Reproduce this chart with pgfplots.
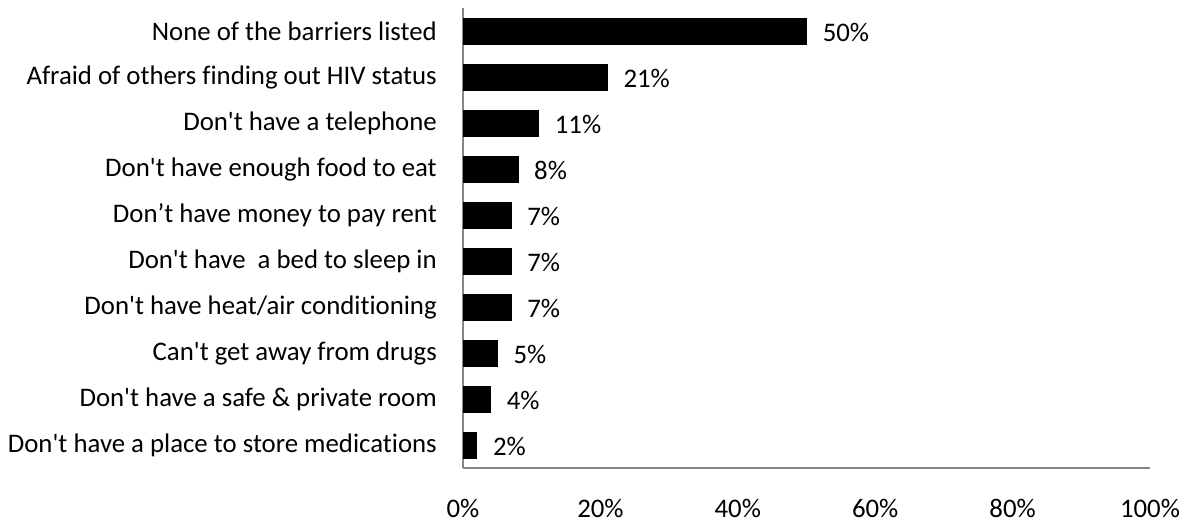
\documentclass[border=0pt]{standalone}
\usepackage{pgfplots}
\pgfplotsset{compat=1.18}
\usepackage{fontspec}
\setmainfont{Carlito}[Ligatures={TeXOff,NoCommon}]
\definecolor{axgray}{HTML}{868686}
\begin{document}
\begin{tikzpicture}
\begin{axis}[
  scale only axis,
  width=515.25pt, height=345pt,
  xbar, bar width=19.5pt,
  xmin=0, xmax=100, ymin=0.5, ymax=10.5,
  y dir=reverse,
  axis x line=bottom, axis y line=left,
  axis line style={-, draw=axgray, line width=0.9pt},
  xtick={0,20,40,60,80,100},
  ytick={1,...,10},
  yticklabels={None of the barriers listed,Afraid of others finding out HIV status,Don't have a telephone,Don't have enough food to eat,Don’t have money to pay rent,Don't have\ \ a bed to sleep in,Don't have heat/air conditioning,Can't get away from drugs,Don't have a safe \& private room,Don't have a place to store medications},
  xticklabel={\pgfmathprintnumber{\tick}\%},
  /pgf/number format/assume math mode=true,
  major tick length=0pt,
  tick style={draw=none},
  font=\fontsize{20.1pt}{23pt}\selectfont,
  yticklabel style={anchor=east, inner sep=0pt, xshift=-19.5pt},
  xticklabel style={anchor=center, inner sep=0pt, yshift=-30pt},
  nodes near coords={\pgfmathprintnumber{\pgfplotspointmeta}\%},
  nodes near coords style={anchor=west, inner sep=0pt, xshift=12pt, yshift=-1pt, font=\fontsize{20.1pt}{23pt}\selectfont},
  clip=false,
]
\addplot[fill=black, draw=black] coordinates {(50,1) (21,2) (11,3) (8,4) (7,5) (7,6) (7,7) (5,8) (4,9) (2,10)};
\coordinate (bbA) at (rel axis cs:-0.674,-0.11739);
\coordinate (bbB) at (rel axis cs:1.0524,1.01739);
\end{axis}
\pgfresetboundingbox
\path[use as bounding box] (bbA) rectangle (bbB);
\end{tikzpicture}
\end{document}
